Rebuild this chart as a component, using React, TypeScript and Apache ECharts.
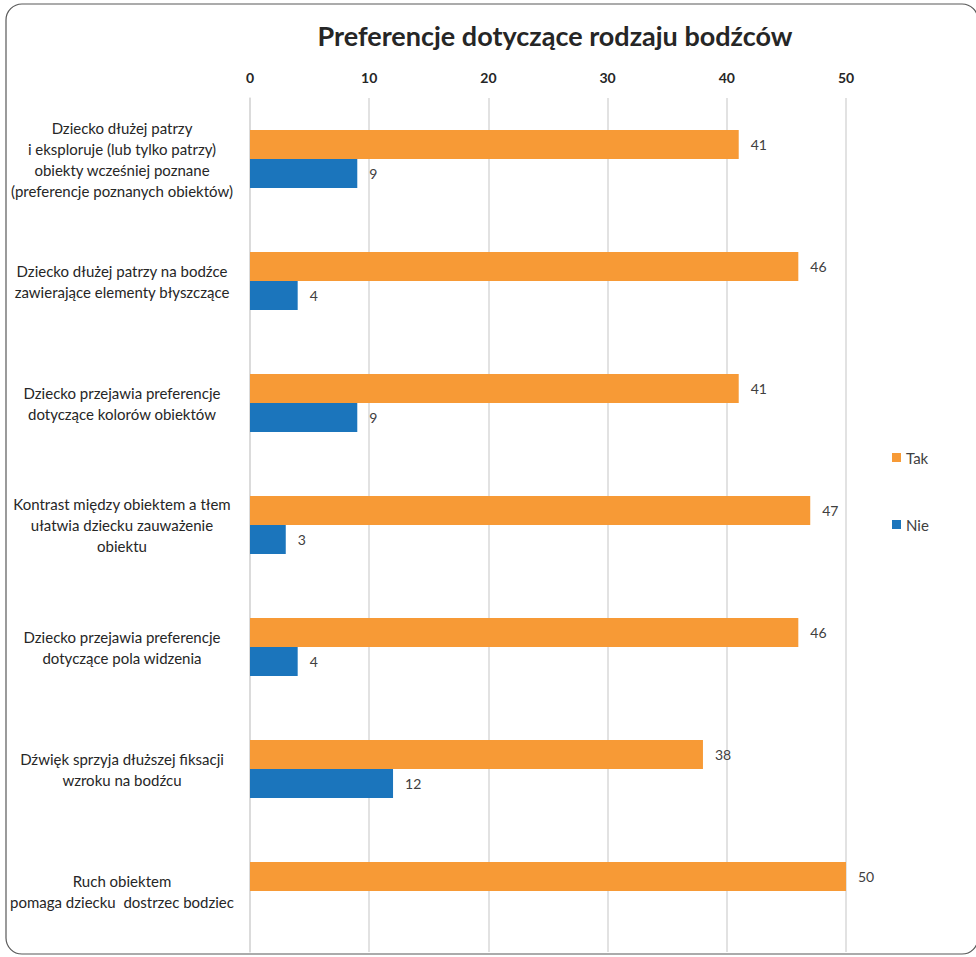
import React, { useEffect, useRef } from "react";
import * as echarts from "echarts";

const categories = [
  "Dziecko dłużej patrzy\ni eksploruje (lub tylko patrzy)\nobiekty wcześniej poznane\n(preferencje poznanych obiektów)",
  "Dziecko dłużej patrzy na bodźce\nzawierające elementy błyszczące",
  "Dziecko przejawia preferencje\ndotyczące kolorów obiektów",
  "Kontrast między obiektem a tłem\nułatwia dziecku zauważenie\nobiektu",
  "Dziecko przejawia preferencje\ndotyczące pola widzenia",
  "Dźwięk sprzyja dłuższej fiksacji\nwzroku na bodźcu",
  "Ruch obiektem\npomaga dziecku  dostrzec bodziec",
];
const takValues = [41, 46, 41, 47, 46, 38, 50];
const nieValues: (number | null)[] = [9, 4, 9, 3, 4, 12, null];
const xTicks = { min: 0, max: 50, interval: 10 };

const FONT = "Lato, 'Open Sans', sans-serif";

export default function App() {
  const ref = useRef<HTMLDivElement>(null);
  useEffect(() => {
    document.body.style.margin = "0";
    const chart = echarts.init(ref.current!, null, { renderer: "svg" });
    chart.setOption({
      animation: false,
      backgroundColor: "#ffffff",
      textStyle: { fontFamily: FONT },
      title: {
        text: "Preferencje dotyczące rodzaju bodźców",
        left: 550,
        top: 17,
        textAlign: "center",
        textStyle: { fontSize: 27, fontWeight: "bold", color: "#262626", fontFamily: FONT },
      },
      legend: {
        orient: "vertical",
        left: 887,
        top: 445,
        itemWidth: 9,
        itemHeight: 9,
        itemGap: 52,
        icon: "rect",
        textStyle: { fontSize: 15, color: "#404040", fontFamily: FONT },
        data: ["Tak", "Nie"],
      },
      graphic: [
        {
          type: "rect",
          shape: { x: 6, y: 4, width: 972, height: 950, r: 16 },
          style: { fill: "none", stroke: "#595959", lineWidth: 1.2 },
          silent: true,
          z: -1,
        },
      ],
      grid: { left: 250, right: 130, top: 98, bottom: 5, containLabel: false },
      xAxis: {
        type: "value",
        position: "top",
        min: xTicks.min,
        max: xTicks.max,
        interval: xTicks.interval,
        axisLine: { show: false },
        axisTick: { show: false },
        axisLabel: { fontSize: 14, fontWeight: "bold", color: "#262626", margin: 14, fontFamily: FONT },
        splitLine: { lineStyle: { color: "#d9d9d9", width: 1.5 } },
      },
      yAxis: {
        type: "category",
        inverse: true,
        data: categories,
        axisLine: { show: true, lineStyle: { color: "#d9d9d9", width: 1.5 } },
        axisTick: { show: false },
        axisLabel: {
          fontSize: 15,
          color: "#262626",
          align: "center",
          margin: 128,
          lineHeight: 21,
          fontFamily: FONT,
        },
      },
      series: [
        {
          name: "Tak",
          type: "bar",
          data: takValues,
          barWidth: 29,
          barGap: "0%",
          itemStyle: { color: "#F79A36" },
          label: { show: true, position: "right", distance: 12, fontSize: 14, color: "#404040", fontFamily: FONT },
        },
        {
          name: "Nie",
          type: "bar",
          data: nieValues,
          barWidth: 29,
          barGap: "0%",
          itemStyle: { color: "#1B75BC" },
          label: { show: true, position: "right", distance: 12, fontSize: 14, color: "#404040", fontFamily: FONT },
        },
      ],
    });
    return () => chart.dispose();
  }, []);
  return <div ref={ref} style={{ width: 976, height: 957 }} />;
}
